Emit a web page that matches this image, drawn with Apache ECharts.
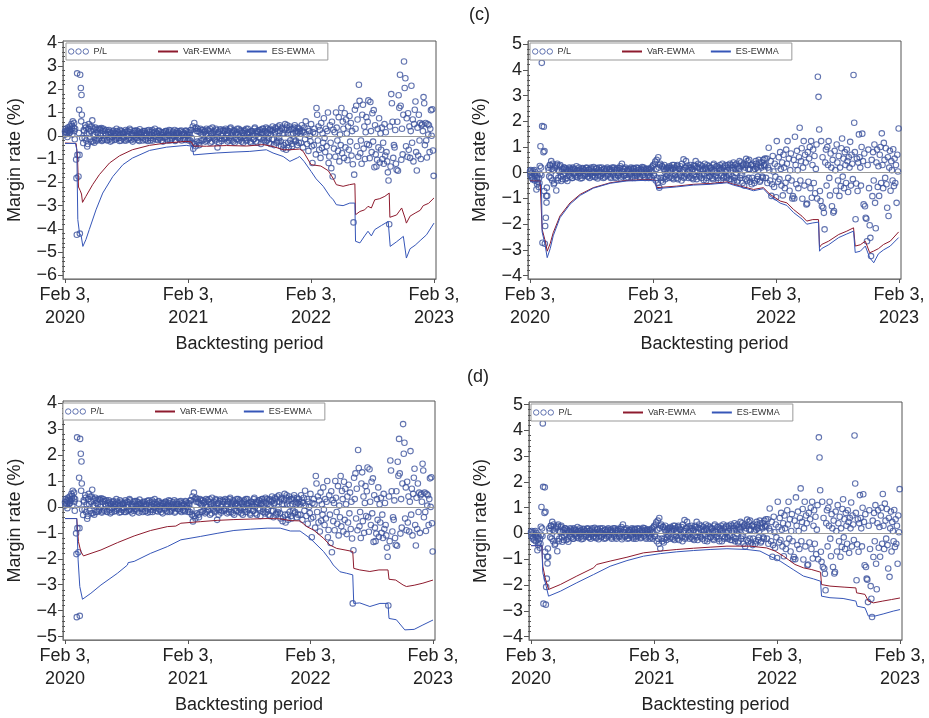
<!DOCTYPE html>
<html><head><meta charset="utf-8">
<script src="https://cdn.jsdelivr.net/npm/echarts@6/dist/echarts.min.js"></script>
<style>html,body{margin:0;padding:0;background:#fff}#c{width:929px;height:718px}</style>
</head><body><div id="c"></div>
<script>
// ---------- tick labels ----------
const xTickDays = [0, 366, 731, 1096];
const xTickLabels = ['Feb 3,\n2020', 'Feb 3,\n2021', 'Feb 3,\n2022', 'Feb 3,\n2023'];
const yTicksTL = [-6,-5,-4,-3,-2,-1,0,1,2,3,4];
const yTicksTR = [-4,-3,-2,-1,0,1,2,3,4,5];
const yTicksBL = [-5,-4,-3,-2,-1,0,1,2,3,4];
const yTicksBR = [-4,-3,-2,-1,0,1,2,3,4,5];
const seriesNames = ['P/L', 'VaR-EWMA', 'ES-EWMA'];

// ---------- P/L (day since Feb 3 2020, %) ----------
const plLeftEarly = [[0,0.18],[1,0.05],[2,0.3],[5,0.12],[6,0.25],[7,-0.05],[8,0.2],[9,0.35],[12,0.1],[13,0.28],[14,0.4],[15,0.15],[16,0.22],[19,0.5],[20,0.3],[21,0.42],[22,0.05],[23,0.62],[26,0.35],[27,0.55],[28,0.2],[29,-0.15],[30,0.3],[33,-1.02],[34,-1.82],[35,-4.25],[36,2.68],[37,-0.82],[40,-1.75],[41,0.12],[42,1.12],[43,-0.82],[44,-4.2],[45,2.62],[47,2.05],[48,0.62],[49,1.75],[50,0.9],[51,-0.1]];
// quiet period A: every 3 days from day 54
const plLeftQuiet = [
-0.31,0.2,0.45,-0.2,-0.46,0.3,0.1,0.4,-0.25,0.66,0.05,-0.3,0.35,0.15,-0.2,0.3,-0.1,0.25,0.33,-0.18,
0.3,-0.15,0.1,0.25,-0.2,0.05,0.18,-0.25,0.12,-0.05,0.22,-0.18,0.08,0.3,-0.1,0.15,-0.22,0.05,0.2,-0.12,
0.1,-0.2,0.25,0.0,-0.15,0.18,0.3,-0.1,0.05,-0.25,0.2,0.12,-0.08,0.22,-0.18,0.1,0.28,-0.05,0.15,-0.2,
0.05,0.2,-0.15,0.1,-0.22,0.25,0.0,-0.1,0.18,-0.2,0.12,0.3,-0.05,0.08,-0.18,0.22,-0.12,0.15,0.02,-0.25,
0.15,-0.05,0.2,-0.15,0.1,0.25,-0.2,0.05,-0.1,0.18,0.0,-0.22,0.12,0.2,-0.08,0.1,-0.15,0.22,0.05,-0.12,
0.1,-0.18,0.2,0.05,-0.1,0.15,-0.2,0.25,-0.3,-0.56,0.55,-0.35,0.35,-0.25,0.2,-0.4,0.3,0.1,-0.2,0.25,
0.15,-0.25,0.3,0.0,-0.15,0.2,-0.3,0.1,0.35,-0.1,0.05,-0.2,0.25,-0.5,0.15,-0.12,0.28,-0.22,0.1,0.2,
-0.15,0.3,0.05,-0.25,0.2,-0.1,0.35,-0.2,0.1,0.25,-0.3,0.05,0.15,-0.15,0.3,-0.05,0.2,-0.25,0.12,0.0,
0.25,-0.2,0.1,0.3,-0.1,0.15,-0.3,0.2,0.05,-0.15,0.35,-0.25,0.1,0.2,-0.05,0.25,-0.35,0.15,0.3,-0.1,
0.2,0.35,-0.2,0.1,-0.3,0.3,0.05,-0.15,0.25,-0.4,0.15,0.3,-0.25,0.4,-0.1,0.2,-0.45,0.35,-0.55,0.1,
0.5,-0.6,0.45,-0.3,0.25,-0.2,0.3,-0.45,0.1,0.35,-0.25,0.2,-0.4,0.15,0.3];
// quiet period B: every 3 days from day 55.5
const plLeftQuiet2 = [
0.25,-0.1,0.35,0.1,-0.35,0.5,-0.15,0.2,0.4,-0.25,0.3,0.05,-0.2,0.25,0.1,-0.15,0.3,0.0,-0.22,0.2,
-0.1,0.22,0.05,-0.18,0.15,0.25,-0.12,0.1,-0.2,0.18,0.0,0.12,-0.15,0.2,0.05,-0.1,0.25,-0.2,0.1,0.15,
-0.05,0.15,-0.2,0.2,0.08,-0.12,0.25,-0.18,0.1,0.0,-0.15,0.22,0.05,-0.1,0.18,-0.22,0.12,0.05,-0.08,0.2,
0.12,-0.18,0.08,0.22,-0.1,0.15,-0.2,0.05,0.25,-0.12,0.0,0.18,-0.15,0.1,0.2,-0.08,0.05,-0.2,0.15,0.1,
-0.1,0.2,0.05,-0.2,0.15,0.0,0.22,-0.15,0.1,-0.05,0.25,-0.18,0.05,0.12,-0.1,0.2,0.0,-0.2,0.15,0.08,
-0.15,0.22,0.0,0.15,-0.2,0.1,0.25,-0.1,0.4,-0.35,0.3,-0.45,0.2,0.3,-0.3,0.15,-0.2,0.25,0.05,-0.15,
0.2,0.05,-0.2,0.25,-0.1,0.3,0.1,-0.25,0.15,0.2,-0.15,0.3,-0.05,0.1,-0.3,0.22,0.0,-0.15,0.25,-0.1,
0.2,-0.1,0.25,0.1,-0.2,0.3,0.0,0.15,-0.25,0.2,0.1,-0.15,0.3,0.05,-0.2,0.25,-0.1,0.15,-0.3,0.2,
-0.1,0.3,-0.2,0.15,0.05,-0.25,0.2,0.1,-0.15,0.3,0.0,0.2,-0.3,0.15,0.25,-0.1,0.1,0.3,-0.2,0.05,
-0.25,0.15,0.3,-0.1,0.25,-0.35,0.2,0.4,-0.15,0.1,0.35,-0.3,0.2,-0.2,0.45,-0.25,0.3,0.1,-0.4,0.25,
-0.3,0.35,0.1,-0.5,0.4,0.05,-0.35,0.3,-0.15,0.45,-0.2,0.1,0.35,-0.3,0.2];
// volatile period: every 2 days from day 699
const plLeftVol = [
0.1,-0.3,0.45,0.2,-0.5,0.15,0.35,-0.15,0.62,0.05,-0.35,0.3,-0.65,0.2,0.0,-0.24,0.5,-0.45,-1.17,0.15,
-0.4,0.3,0.1,-0.8,1.19,0.9,-0.2,0.4,-0.6,0.25,-0.95,0.55,-0.53,0.1,-0.3,0.75,-0.1,-0.7,0.3,-0.45,
0.2,1.0,-1.17,-0.89,0.45,-0.3,-1.39,0.6,-1.75,0.26,-0.55,0.15,-0.9,1.0,0.35,-0.2,-0.65,0.8,-1.1,0.05,
-0.4,1.19,-0.75,0.61,0.3,-0.95,0.97,-0.5,0.7,0.1,-1.05,0.4,-0.6,0.85,-0.25,0.55,-0.85,0.2,-1.22,-3.72,
-1.67,1.12,0.3,1.29,-0.45,0.7,-0.9,2.19,1.5,-0.75,-0.2,-1.2,0.9,1.33,-0.55,0.4,-1.0,0.15,0.8,-0.35,
0.6,1.52,-0.4,-0.96,1.45,0.2,-0.7,0.97,-0.25,1.1,-1.35,0.45,-0.8,-1.32,-1.03,0.3,-0.5,0.75,-1.15,0.1,
-0.6,0.35,-1.0,-0.3,-1.2,0.5,-0.85,0.15,-0.7,-1.1,-1.57,-1.92,-3.8,0.4,-1.32,1.79,1.4,0.6,-0.95,-0.4,
-0.5,0.25,-1.2,-1.46,0.6,-1.5,1.74,1.2,2.62,1.29,-1.03,0.3,-0.8,0.9,3.19,2.05,2.47,-0.45,0.75,-0.9,
0.97,-0.6,0.4,-0.95,0.2,2.15,-0.3,0.7,-1.1,0.5,1.12,1.47,-0.7,-1.49,0.35,-0.85,0.9,-0.2,0.55,-1.0,
0.45,0.5,0.2,1.66,1.4,-0.4,0.55,-0.2,-0.93,0.5,0.05,0.45,-0.7,0.3,1.1,0.0,1.14,-0.63,-1.72];

const plRightEarly = [[0,0.05],[1,-0.1],[2,0.1],[5,-0.2],[6,0.0],[7,-0.15],[8,0.08],[9,-0.25],[12,-0.05],[13,0.1],[14,-0.3],[15,-0.12],[16,0.02],[19,-0.65],[20,-0.2],[21,-0.45],[22,-0.1],[23,-0.35],[26,-0.55],[27,-0.2],[28,-0.4],[29,0.26],[30,-0.05],[31,1.03],[33,0.2],[34,-0.1],[35,4.27],[36,1.81],[37,-2.72],[40,0.8],[41,1.79],[42,-0.71],[43,0.84],[44,-2.76],[45,-2.07],[47,-1.75],[48,-0.9],[49,-1.16],[50,-0.58],[51,-0.9]];
const plRightQuiet = [
0.2,-0.15,0.3,0.45,-0.3,0.1,-0.4,0.25,-0.69,0.35,-0.2,0.05,0.3,-0.32,0.15,-0.1,0.2,-0.25,0.1,-0.32,
0.05,0.2,-0.15,0.1,-0.2,0.15,0.0,-0.1,0.25,-0.18,0.08,0.12,-0.22,0.05,0.18,-0.12,0.1,-0.05,0.2,-0.15,
0.1,-0.2,0.15,0.05,-0.1,0.22,-0.15,0.0,0.18,-0.22,0.1,0.05,-0.12,0.2,-0.05,0.12,-0.18,0.08,0.15,-0.1,
0.05,0.15,-0.2,0.1,-0.05,0.2,-0.15,0.08,0.12,-0.1,0.0,0.18,-0.22,0.35,0.05,-0.12,0.15,-0.08,0.1,-0.18,
0.12,-0.05,0.2,-0.15,0.08,0.15,-0.2,0.05,-0.1,0.18,0.0,-0.15,0.1,0.22,-0.08,0.12,-0.2,0.15,0.05,-0.1,
0.1,-0.15,0.2,0.05,0.3,-0.1,0.43,0.15,-0.2,0.6,-0.58,0.35,-0.3,0.25,-0.2,0.3,-0.25,0.15,-0.1,0.2,
0.25,-0.15,0.1,0.3,-0.25,0.2,0.05,-0.2,0.3,-0.1,0.15,0.25,-0.3,0.1,0.52,-0.15,0.2,-0.05,0.28,-0.2,
0.1,0.3,-0.2,0.15,-0.1,0.25,0.45,-0.25,0.05,0.2,-0.15,0.3,-0.05,0.1,-0.28,0.35,0.15,-0.2,0.05,0.25,
-0.15,0.2,0.1,-0.25,0.35,0.05,-0.1,0.25,-0.2,0.15,0.3,-0.3,0.1,0.2,-0.15,0.25,0.05,-0.2,0.3,-0.1,
0.35,-0.25,0.2,0.1,-0.3,0.3,0.0,-0.35,0.25,0.15,-0.2,0.4,-0.1,0.3,-0.5,0.2,0.54,-0.3,0.15,0.5,
-0.35,0.3,-0.2,0.25,-0.4,0.15,0.35,-0.25,0.1,0.4,-0.3,0.2,-0.15,0.5,0.25];
const plRightQuiet2 = [
0.1,0.3,-0.2,0.15,0.35,-0.45,0.2,-0.1,0.3,-0.3,0.1,0.25,-0.15,0.05,-0.25,0.2,0.0,0.15,-0.2,0.1,
-0.1,0.15,0.05,-0.2,0.2,-0.05,0.12,-0.15,0.1,0.0,0.2,-0.12,0.05,-0.2,0.15,0.08,-0.1,0.18,0.0,-0.15,
0.12,-0.05,0.2,-0.15,0.08,0.0,-0.18,0.15,0.05,-0.1,0.2,-0.15,0.1,0.0,-0.2,0.15,0.05,-0.12,0.2,-0.05,
0.1,-0.15,0.05,0.2,-0.1,0.12,-0.2,0.0,0.18,-0.12,0.1,0.25,-0.15,0.05,0.15,-0.1,0.2,-0.2,0.08,0.12,
-0.1,0.15,0.05,-0.2,0.18,0.0,-0.12,0.2,-0.05,0.1,-0.18,0.15,0.05,-0.1,0.2,-0.15,0.08,0.0,0.15,-0.2,
0.15,0.05,-0.2,0.25,-0.1,0.35,-0.3,0.5,-0.4,0.2,0.3,-0.2,0.25,-0.35,0.15,0.05,-0.15,0.2,0.1,-0.2,
0.1,0.2,-0.2,0.15,0.3,-0.1,0.05,0.25,-0.25,0.15,0.0,-0.15,0.35,0.1,-0.2,0.2,0.45,-0.1,0.05,0.2,
-0.15,0.2,0.1,-0.25,0.3,0.05,-0.15,0.2,0.35,-0.1,0.15,-0.2,0.25,0.1,-0.05,0.2,-0.3,0.3,0.0,-0.15,
0.2,0.05,-0.2,0.3,0.1,-0.15,0.25,0.0,-0.3,0.2,0.1,-0.1,0.35,-0.2,0.05,0.3,-0.15,0.1,0.2,-0.25,
0.1,0.3,-0.15,0.4,-0.2,0.15,0.35,-0.3,0.2,0.45,-0.1,0.25,-0.4,0.35,0.1,-0.25,0.3,0.45,-0.2,0.15,
0.3,-0.45,0.35,0.1,-0.3,0.45,0.2,-0.15,0.5,-0.35,0.25,0.4,-0.2,0.3,0.55];
const plRightVol = [
0.3,-0.2,0.55,-0.4,0.2,0.97,0.1,-0.3,0.45,-0.9,-0.45,0.65,0.05,-0.55,0.35,-0.15,-0.95,1.23,0.25,-0.35,
0.6,-0.25,0.8,0.15,-0.5,0.4,-0.88,0.7,0.2,-0.6,-0.39,0.9,0.35,1.23,-0.2,0.55,-0.7,0.1,0.75,-0.3,
-1.0,-0.91,0.5,-1.0,1.4,0.3,-0.45,0.85,0.1,-0.6,0.6,1.75,-0.3,0.45,0.95,-1.01,0.2,1.23,-0.5,0.7,
0.4,-1.23,-1.2,0.8,-0.35,0.55,1.0,-0.6,1.23,-0.97,0.3,0.9,-0.4,0.65,-0.8,0.15,1.1,-1.0,3.73,2.95,
1.68,-0.71,-1.1,1.23,-1.3,0.6,-1.36,-1.56,-2.2,0.4,0.9,-0.5,1.0,0.3,1.23,-0.2,-0.88,0.75,0.2,-1.3,
0.5,-1.55,-1.49,0.85,0.1,-0.7,1.1,0.4,-0.3,0.65,-0.9,0.2,-0.52,0.95,1.33,-0.15,0.55,-0.6,0.8,0.3,
-0.4,0.9,0.45,-0.75,0.6,0.2,1.2,-0.5,0.7,0.35,-0.25,3.8,1.94,0.8,-1.81,-0.42,0.55,-0.71,0.4,1.49,
0.6,0.2,-0.5,1.0,1.52,0.45,-1.23,0.75,-1.3,-1.75,-1.79,-2.66,0.3,0.9,-0.6,-2.04,-2.53,-3.24,0.5,-0.91,
0.8,-0.3,1.1,-1.17,-2.16,0.4,0.9,-0.55,0.25,-0.9,0.7,1.0,-0.4,1.53,0.3,-0.6,1.16,0.5,-0.2,0.95,
-0.45,-1.36,0.6,-1.68,0.2,0.85,-0.7,0.45,0.1,-0.3,0.91,-0.52,0.55,-0.4,0.3,-1.17,0.7,0.05,1.72];

// ---------- margin lines: [day, value] ----------
const varTL = [[0,-0.31],[33,-0.33],[37,-0.9],[40,-2.2],[45,-2.35],[49,-2.5],[52,-2.86],[62,-2.6],[82,-2.1],[102,-1.67],[132,-1.17],[162,-0.86],[200,-0.6],[251,-0.41],[301,-0.31],[360,-0.24],[375,-0.26],[382,-0.44],[420,-0.45],[480,-0.42],[540,-0.44],[588,-0.38],[618,-0.46],[648,-0.6],[668,-0.6],[697,-0.57],[707,-0.66],[731,-1.24],[760,-1.3],[782,-1.5],[796,-1.82],[806,-2.1],[826,-2.17],[845,-2.1],[861,-2.06],[863,-3.39],[876,-3.25],[890,-3.18],[900,-3.03],[910,-3.1],[920,-2.75],[935,-2.7],[950,-2.6],[963,-2.46],[965,-3.5],[985,-3.4],[1000,-3.1],[1010,-3.53],[1014,-3.75],[1025,-3.45],[1040,-3.32],[1055,-3.2],[1064,-3.0],[1080,-2.9],[1096,-2.67]];
const esTL = [[0,-0.33],[31,-0.33],[35,-0.6],[38,-3.6],[43,-4.18],[48,-4.3],[53,-4.75],[62,-4.46],[72,-4.03],[92,-3.18],[112,-2.46],[142,-1.75],[172,-1.24],[200,-0.96],[251,-0.63],[301,-0.49],[360,-0.41],[378,-0.45],[382,-0.82],[449,-0.74],[499,-0.7],[549,-0.67],[598,-0.6],[618,-0.74],[648,-0.89],[668,-1.1],[690,-0.95],[697,-0.89],[710,-1.1],[731,-1.53],[746,-1.85],[767,-2.17],[787,-2.6],[797,-2.75],[806,-2.96],[826,-3.0],[846,-2.89],[861,-2.89],[863,-4.53],[876,-4.6],[890,-4.3],[900,-4.1],[910,-4.3],[920,-4.03],[940,-3.85],[960,-3.68],[963,-3.68],[966,-4.75],[985,-4.55],[1005,-4.32],[1014,-5.25],[1025,-4.85],[1040,-4.7],[1055,-4.5],[1074,-4.25],[1096,-3.75]];
const varTR = [[0,-0.32],[30,-0.33],[34,-0.4],[36,-2.2],[44,-2.6],[46,-2.7],[51,-3.05],[60,-2.75],[69,-2.33],[89,-1.68],[119,-1.17],[149,-0.84],[188,-0.58],[238,-0.39],[287,-0.3],[356,-0.27],[372,-0.3],[376,-0.58],[436,-0.52],[485,-0.45],[535,-0.42],[585,-0.36],[604,-0.45],[634,-0.55],[664,-0.65],[693,-0.58],[713,-0.84],[743,-1.1],[763,-1.17],[783,-1.43],[808,-1.69],[822,-1.88],[840,-1.82],[857,-1.82],[860,-2.9],[866,-2.79],[887,-2.66],[917,-2.4],[941,-2.27],[961,-2.14],[966,-2.85],[981,-2.8],[996,-2.66],[1009,-3.11],[1020,-3.05],[1035,-2.95],[1050,-2.79],[1070,-2.66],[1095,-2.3]];
const esTR = [[0,-0.35],[30,-0.36],[34,-0.5],[36,-2.3],[44,-2.75],[51,-3.3],[60,-2.95],[69,-2.45],[89,-1.75],[119,-1.22],[149,-0.88],[188,-0.6],[238,-0.41],[287,-0.32],[356,-0.29],[372,-0.32],[376,-0.62],[436,-0.55],[485,-0.48],[535,-0.45],[585,-0.39],[604,-0.48],[634,-0.58],[664,-0.7],[693,-0.62],[713,-0.9],[743,-1.18],[763,-1.27],[783,-1.55],[808,-1.8],[822,-2.0],[840,-1.95],[857,-1.92],[860,-3.05],[866,-2.95],[887,-2.8],[917,-2.52],[941,-2.38],[961,-2.27],[966,-3.1],[981,-3.05],[996,-2.85],[1009,-3.3],[1021,-3.5],[1035,-3.15],[1050,-3.0],[1070,-2.85],[1095,-2.52]];
const varBL = [[0,-0.45],[35,-0.45],[40,-1.34],[47,-1.72],[55,-1.89],[107,-1.66],[156,-1.38],[206,-1.12],[255,-0.91],[305,-0.76],[330,-0.74],[345,-0.63],[403,-0.57],[453,-0.52],[503,-0.49],[552,-0.47],[602,-0.45],[641,-0.46],[671,-0.53],[700,-0.54],[720,-0.76],[740,-0.89],[770,-1.21],[789,-1.47],[809,-1.6],[834,-1.66],[857,-1.72],[860,-2.37],[878,-2.43],[908,-2.49],[935,-2.43],[962,-2.43],[965,-2.79],[985,-2.82],[1007,-3.01],[1017,-3.07],[1040,-3.02],[1066,-2.94],[1096,-2.82]];
const esBL = [[0,-0.45],[35,-0.45],[39,-2.04],[44,-3.07],[52,-3.56],[77,-3.33],[107,-3.01],[156,-2.56],[186,-2.24],[188,-2.15],[206,-2.1],[255,-1.79],[305,-1.53],[345,-1.27],[403,-1.14],[453,-1.02],[503,-0.91],[552,-0.86],[602,-0.82],[641,-0.82],[671,-0.93],[700,-0.93],[730,-1.21],[770,-1.72],[789,-2.04],[799,-2.24],[819,-2.5],[839,-2.56],[857,-2.62],[860,-3.72],[878,-3.7],[908,-3.84],[938,-3.72],[962,-3.72],[965,-4.3],[987,-4.35],[1012,-4.74],[1040,-4.72],[1066,-4.55],[1096,-4.36]];
const varBR = [[0,-0.47],[32,-0.47],[35,-1.27],[42,-1.72],[52,-2.17],[87,-1.98],[136,-1.65],[186,-1.33],[195,-1.2],[235,-1.07],[285,-0.92],[334,-0.75],[384,-0.68],[433,-0.62],[483,-0.57],[532,-0.53],[582,-0.49],[651,-0.49],[700,-0.56],[725,-0.68],[750,-0.88],[764,-1.01],[784,-1.2],[809,-1.33],[834,-1.4],[860,-1.5],[863,-1.98],[888,-2.04],[930,-2.08],[965,-2.11],[967,-2.3],[992,-2.36],[1002,-2.62],[1017,-2.69],[1045,-2.62],[1071,-2.56],[1096,-2.5]];
const esBR = [[0,-0.47],[32,-0.47],[35,-1.52],[45,-2.04],[52,-2.43],[87,-2.24],[136,-1.91],[186,-1.59],[235,-1.27],[285,-1.05],[334,-0.88],[384,-0.78],[433,-0.71],[483,-0.66],[532,-0.62],[582,-0.59],[641,-0.62],[680,-0.68],[710,-0.88],[740,-1.07],[779,-1.4],[809,-1.65],[839,-1.76],[860,-1.85],[863,-2.43],[888,-2.49],[927,-2.52],[965,-2.62],[969,-2.82],[992,-2.88],[1002,-3.2],[1022,-3.2],[1046,-3.12],[1076,-3.01],[1096,-2.95]];

// ---------- build ----------
const QUIET_START = 54, QUIET2_START = 55.5, QUIET_STEP = 3, VOL_START = 699, VOL_STEP = 2;
function buildPL(early, quiet, quiet2, vol) {
  const out = early.map(p => p.slice());
  quiet.forEach((v, i) => out.push([QUIET_START + i * QUIET_STEP, v]));
  quiet2.forEach((v, i) => out.push([QUIET2_START + i * QUIET_STEP, v]));
  vol.forEach((v, i) => out.push([VOL_START + i * VOL_STEP, v]));
  return out;
}
const plLeft = buildPL(plLeftEarly, plLeftQuiet, plLeftQuiet2, plLeftVol);
const plRight = buildPL(plRightEarly, plRightQuiet, plRightQuiet2, plRightVol);

const panels = [
  {pl: plLeft,  vr: varTL, es: esTL, ticks: yTicksTL, yMin: -6.15, yMax: 4.07, grid: {left: 63, top: 41, width: 373, height: 238}, lg: {left: 66, top: 43}},
  {pl: plRight, vr: varTR, es: esTR, ticks: yTicksTR, yMin: -4.13, yMax: 5.12, grid: {left: 528, top: 41, width: 373, height: 238}, lg: {left: 530, top: 43}},
  {pl: plLeft,  vr: varBL, es: esBL, ticks: yTicksBL, yMin: -5.13, yMax: 4.08, grid: {left: 63, top: 401, width: 372, height: 239}, lg: {left: 63, top: 403}},
  {pl: plRight, vr: varBR, es: esBR, ticks: yTicksBR, yMin: -4.13, yMax: 5.10, grid: {left: 529, top: 402, width: 373, height: 238}, lg: {left: 531, top: 404}}
];

const FONT = 'Liberation Sans, Arial, Helvetica, sans-serif';
const PL_COLOR = '#3b519c', VAR_COLOR = '#8e1b2e', ES_COLOR = '#3656b8';
const plIcon = 'path://M0.4,3a2.6,2.6 0 1,0 5.2,0a2.6,2.6 0 1,0 -5.2,0M7.4,3a2.6,2.6 0 1,0 5.2,0a2.6,2.6 0 1,0 -5.2,0M14.4,3a2.6,2.6 0 1,0 5.2,0a2.6,2.6 0 1,0 -5.2,0';
// trailing non-breaking spaces per legend entry (legend spacing)
const legendPad = {'P/L': 16, 'VaR-EWMA': 2, 'ES-EWMA': 4};

function minorTicks(min, max) {
  const r = [];
  for (let k = Math.ceil(min * 5); k <= Math.floor(max * 5); k++) if (k % 5 !== 0) r.push(k / 5);
  return r;
}

const grids = [], xAxes = [], yAxes = [], series = [], legends = [];
panels.forEach((p, i) => {
  grids.push(Object.assign({show: true, borderColor: '#555', borderWidth: 1, backgroundColor: 'transparent'}, p.grid));
  xAxes.push({
    type: 'value', gridIndex: i, min: -6, max: 1102,
    axisLine: {show: true, onZero: false, lineStyle: {color: '#777', width: 1}},
    axisTick: {show: true, customValues: xTickDays, length: 4, lineStyle: {color: '#555'}},
    axisLabel: {customValues: xTickDays, formatter: v => xTickLabels[xTickDays.indexOf(v)], fontSize: 18, lineHeight: 23, color: '#222', margin: 5, fontFamily: FONT, hideOverlap: false},
    splitLine: {show: false},
    name: 'Backtesting period', nameLocation: 'middle', nameGap: 56,
    nameTextStyle: {fontSize: 18, color: '#222', fontFamily: FONT}
  });
  yAxes.push({
    type: 'value', gridIndex: i, min: p.yMin, max: p.yMax, position: 'left',
    axisLine: {show: true, onZero: false, lineStyle: {color: '#777', width: 1}},
    axisTick: {show: true, customValues: p.ticks, length: 5, lineStyle: {color: '#555'}},
    axisLabel: {customValues: p.ticks, formatter: v => String(v).replace('-', '\u2212'), fontSize: 18, color: '#222', margin: 6, fontFamily: FONT},
    splitLine: {show: false},
    name: 'Margin rate (%)', nameLocation: 'middle', nameGap: 39,
    nameTextStyle: {fontSize: 18, color: '#222', fontFamily: FONT}
  });
  yAxes.push({
    type: 'value', gridIndex: i, min: p.yMin, max: p.yMax, position: 'left', offset: 0,
    axisLine: {show: false},
    axisTick: {show: true, customValues: minorTicks(p.yMin, p.yMax), length: 3, lineStyle: {color: '#555'}},
    axisLabel: {show: false}, splitLine: {show: false}
  });
  series.push({
    type: 'scatter', name: seriesNames[0], xAxisIndex: i, yAxisIndex: 2 * i, data: p.pl,
    symbol: 'circle', symbolSize: 5.5,
    itemStyle: {color: 'rgba(255,255,255,0)', borderColor: PL_COLOR, borderWidth: 1.1},
    markLine: {silent: true, symbol: 'none', label: {show: false}, lineStyle: {color: '#9a9a9a', width: 1, type: 'solid'}, data: [{yAxis: 0}], animation: false},
    z: 2, animation: false
  });
  series.push({
    type: 'line', name: seriesNames[1], xAxisIndex: i, yAxisIndex: 2 * i, data: p.vr,
    symbol: 'none', showSymbol: false, lineStyle: {color: VAR_COLOR, width: 1}, itemStyle: {color: VAR_COLOR}, z: 3, animation: false
  });
  series.push({
    type: 'line', name: seriesNames[2], xAxisIndex: i, yAxisIndex: 2 * i, data: p.es,
    symbol: 'none', showSymbol: false, lineStyle: {color: ES_COLOR, width: 1}, itemStyle: {color: ES_COLOR}, z: 3, animation: false
  });
  legends.push({
    left: p.lg.left, top: p.lg.top, orient: 'horizontal', selectedMode: false,
    itemWidth: 20, itemHeight: 6, itemGap: 10, padding: [4, 3, 4, 2],
    borderColor: '#999', borderWidth: 1, backgroundColor: '#fff',
    formatter: name => name + '\u00a0'.repeat(legendPad[name] || 0),
    textStyle: {fontSize: 9, color: '#333', fontFamily: FONT},
    data: [
      {name: seriesNames[0], icon: plIcon, itemStyle: {color: 'rgba(255,255,255,0)', borderColor: PL_COLOR, borderWidth: 1}},
      {name: seriesNames[1], itemStyle: {opacity: 0}},
      {name: seriesNames[2], itemStyle: {opacity: 0}}
    ]
  });
});

const chart = echarts.init(document.getElementById('c'), null, {renderer: 'canvas'});
chart.setOption({
  animation: false,
  backgroundColor: '#fff',
  textStyle: {fontFamily: FONT},
  title: [
    {text: '(c)', left: 469, top: 6, padding: 0, textStyle: {fontSize: 18, fontWeight: 'normal', color: '#222', fontFamily: FONT}},
    {text: '(d)', left: 467, top: 368, padding: 0, textStyle: {fontSize: 18, fontWeight: 'normal', color: '#222', fontFamily: FONT}}
  ],
  legend: legends,
  grid: grids,
  xAxis: xAxes,
  yAxis: yAxes,
  series: series
});
</script></body></html>
